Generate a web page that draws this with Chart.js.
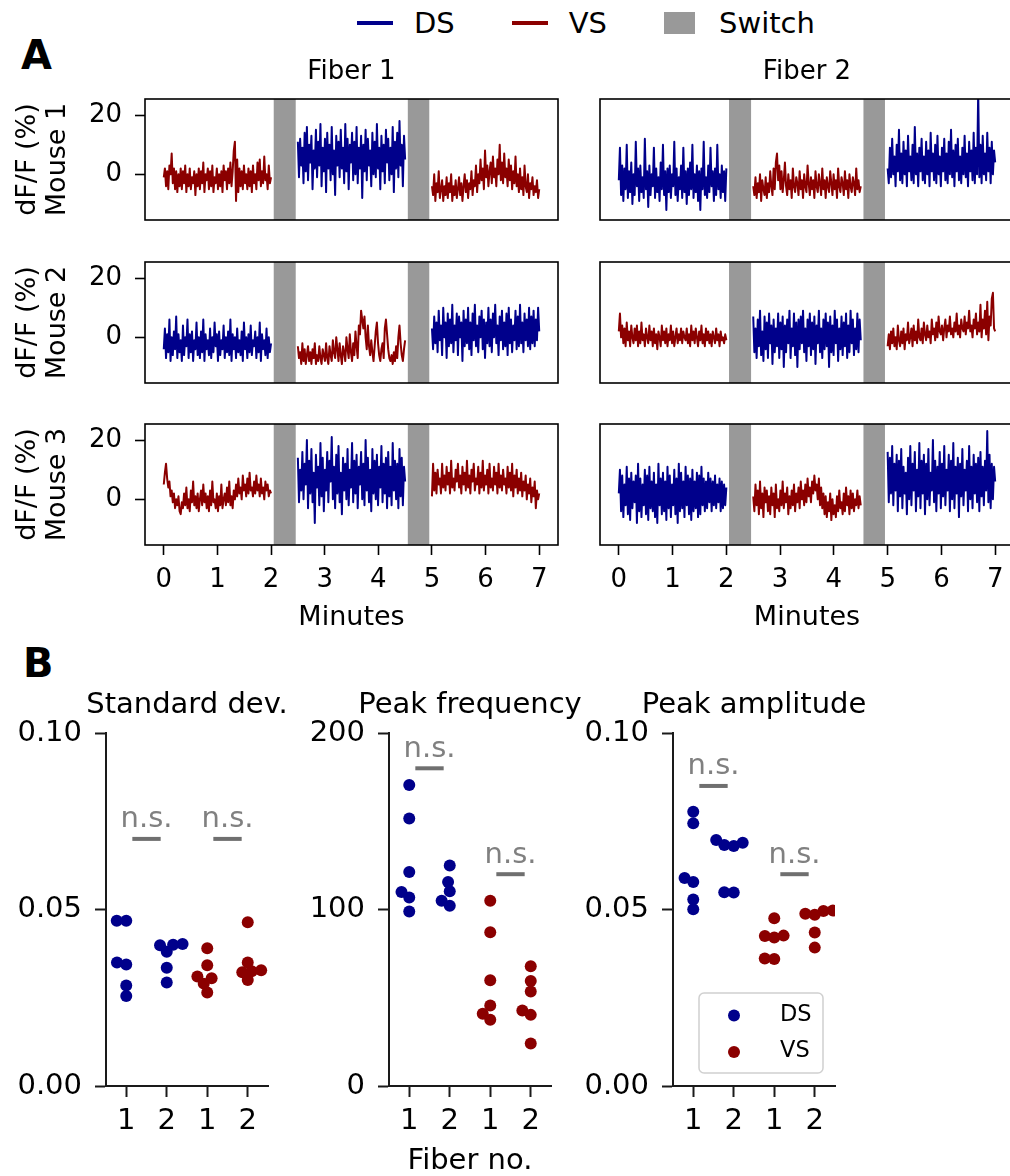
<!DOCTYPE html>
<html>
<head>
<meta charset="utf-8">
<script src="https://cdn.jsdelivr.net/npm/chart.js@4.4.0/dist/chart.umd.min.js"></script>
<style>
  html, body { margin: 0; padding: 0; background: #fff; }
  body { width: 1010px; height: 1176px; overflow: hidden; position: relative; font-family: "DejaVu Sans", sans-serif; }
  canvas { position: absolute; }
  .panel { position: absolute; font-weight: bold; font-size: 40px; line-height: 40px; }
  #topLegend { position: absolute; left: 357px; top: 5px; height: 35px; display: flex; align-items: center; font-size: 29px; }
  #topLegend .item { display: flex; align-items: center; margin-right: 57px; }
  #topLegend .line { width: 36px; height: 4px; margin-right: 21px; }
  #topLegend .box { width: 31px; height: 22px; margin-right: 24px; }
</style>
</head>
<body>
<div id="topLegend"></div>
<div class="panel" style="left:21px; top:35px;">A</div>
<div class="panel" style="left:23px; top:643px;">B</div>

<script>
// ---------- Panel A data: dF/F (%) traces, 3 recordings per fiber ----------
const minuteTicks = [0, 1, 2, 3, 4, 5, 6, 7];
const dffTicks = [0, 20];
const segTimes = [[0, 2], [2.5, 4.5], [5, 7]];
const switchTimes = [[2.05, 2.46], [4.55, 4.95]];
const mouseNames = ['Mouse 1', 'Mouse 2', 'Mouse 3'];
const fiberNames = ['Fiber 1', 'Fiber 2'];
const regionNames = ['DS', 'VS'];
const regionColors = { DS: '#00008b', VS: '#8b0000' };

const m1f1Order = ['VS', 'DS', 'VS'];
const m1f1 = [
  [-1,2,-4,1,-5,3,0,7,-3,2,-5,1,-6,0,-4,2,
   -5,1,-3,3,-6,0,-4,2,-5,-1,-3,1,-7,0,-4,2,
   -5,1,-3,4,-6,0,-2,2,-5,1,-4,3,-6,-1,-3,2,
   -5,0,-4,1,-6,3,-2,1,-5,2,-3,4,-4,1,8,11,
   -9,5,-6,2,-4,1,-5,3,-3,0,-5,2,-4,1,-6,3,
   -3,0,-5,4,-2,5,-4,1,-3,6,-2,0,-5,3,-3,-1],
  [11,-1,12,3,9,-3,14,1,16,-2,10,4,13,-5,8,2,
   15,-1,11,3,17,-4,9,1,12,-6,14,2,10,-2,16,0,
   8,-7,13,3,11,-1,15,2,9,-3,17,1,12,-5,10,4,
   14,-2,11,0,16,-3,9,2,13,-8,10,1,15,-2,12,3,
   8,-4,14,0,11,-1,17,2,9,-5,13,1,10,-3,15,4,
   12,-2,9,0,16,-6,11,2,14,-1,18,3,10,-4,13,5],
  [-4,-7,0,-9,-3,-6,1,-8,-5,-2,-9,-4,-7,-1,-8,-3,
   -6,0,-9,-4,-7,-2,-8,-5,-1,-7,-3,-9,-4,0,-6,-2,
   -8,-3,-5,1,-7,-2,-4,3,-6,0,-3,5,-2,2,-5,8,
   -1,3,-4,1,4,-3,6,-1,2,-4,5,0,10,-2,4,-3,
   7,-1,2,-4,5,-2,3,-5,1,-3,6,-4,0,-6,2,-5,
   -1,-7,3,-4,-6,0,-8,-3,-5,-1,-7,-4,-6,-2,-8,-5]
];
const m1f2Order = ['DS', 'VS', 'DS'];
const m1f2 = [
  [-2,9,-7,3,-9,2,-5,10,-8,1,-6,4,-10,0,-7,11,
   -4,2,-9,3,-6,-1,-8,12,-5,1,-11,3,-7,0,-4,9,
   -8,2,-6,-1,-9,4,-5,10,-7,1,-12,2,-6,3,-8,0,
   -4,11,-7,2,-9,-1,-5,3,-8,9,-6,1,-10,2,-7,4,
   -5,10,-8,0,-6,3,-9,1,-12,2,-5,11,-7,-1,-8,3,
   -6,9,-4,1,-9,2,-7,10,-5,0,-8,3,-6,1,-9,2],
  [-4,-7,-1,-8,-3,-6,0,-9,-2,-5,-7,-1,-8,-3,-6,1,
   -4,-7,2,-5,4,7,-2,3,-5,1,-6,-2,4,-4,-7,0,
   -5,-2,-8,2,-4,-6,-1,-3,-7,1,-5,-2,-8,0,-4,-6,
   3,-3,-7,-1,-5,-2,-8,1,-4,-6,0,-3,-7,2,-5,-2,
   -8,-1,-4,-6,1,-3,-7,0,-5,-2,-8,2,-4,-6,-1,-3,
   -7,1,-5,-2,-8,0,-4,-6,-1,-3,-7,2,-5,-2,-6,-4],
  [2,-3,9,-1,12,0,6,-4,10,1,15,-2,7,-3,11,0,
   8,-4,13,1,6,-2,10,-3,16,0,7,-4,9,1,12,-2,
   6,-3,11,0,8,-4,14,1,7,-2,10,-3,13,0,6,-4,
   9,1,12,-2,7,-3,11,0,15,-1,8,-4,10,1,12,-2,
   6,-3,9,0,13,-1,7,-4,11,1,8,-2,14,-3,9,0,
   28,-1,10,-3,13,0,7,-2,14,1,9,-3,11,0,8,4]
];
const m2f1Order = ['DS', 'VS', 'DS'];
const m2f1 = [
  [-4,3,-7,1,-5,6,-8,0,-6,2,-4,7,-7,1,-5,-1,
   -8,4,-6,0,-3,6,-7,1,-5,2,-8,-1,-4,5,-6,0,
   -7,2,-5,6,-8,1,-4,-1,-6,3,-7,0,-5,5,-3,1,
   -8,2,-6,-1,-4,4,-7,0,-5,2,-6,6,-8,1,-4,0,
   -7,3,-5,-1,-6,2,-8,5,-4,0,-7,1,-5,4,-6,-1,
   -3,2,-7,0,-5,5,-8,1,-4,-1,-6,3,-7,0,-5,-2],
  [-3,-7,-5,-9,-2,-8,-4,-9,-6,-3,-8,-5,-9,-4,-7,-2,
   -9,-6,-8,-3,-7,-9,-4,-6,-8,-2,-7,-9,-3,-6,-8,-1,
   -5,-7,0,-4,-8,-2,-6,-9,-3,-5,-8,0,-4,-7,1,-5,
   -8,-2,-6,2,-3,-7,4,1,9,6,3,7,0,-4,4,-3,
   -6,-1,-5,-8,-3,2,5,-2,-6,-8,-4,-2,-7,3,6,1,
   -4,-7,-8,-6,-9,-5,-8,-3,-7,0,4,-2,-6,-8,-4,-1],
  [3,-4,7,-2,5,-5,9,-1,4,-6,10,0,5,-7,8,-3,
   6,-2,11,-5,4,-1,8,-6,7,0,5,-8,9,-3,6,-2,
   10,-4,5,-6,8,-1,11,-3,4,-5,7,0,9,-4,6,-7,
   5,-2,10,-3,6,-5,8,0,11,-2,4,-6,7,-1,9,-4,
   5,-3,8,-6,10,-2,6,-5,4,-1,9,-4,7,-3,11,-2,
   5,-5,8,-1,6,-3,10,-4,7,-2,9,-3,6,-1,10,2]
];
const m2f2Order = ['VS', 'DS', 'VS'];
const m2f2 = [
  [2,8,0,4,-2,3,-3,5,-1,2,-3,4,0,-2,3,-1,
   4,-3,2,-2,5,-1,1,-3,3,0,-2,4,-1,2,-3,3,
   -2,1,-4,2,0,-3,4,-1,2,-2,3,-3,1,-1,4,-2,
   2,-3,0,3,-2,1,-1,3,-2,2,0,-1,3,-2,1,-3,
   4,-1,2,-2,3,0,-3,2,-1,4,-2,1,-3,3,-1,2,
   -2,1,-3,2,0,-2,3,-1,1,-3,2,-1,0,-2,1,-1],
  [7,-5,3,-7,6,-3,9,-6,2,-8,7,-4,5,-7,8,-2,
   4,-9,6,-5,3,-3,8,-7,5,-4,7,-10,4,-5,6,-2,
   9,-7,3,-3,8,-6,5,-10,6,-4,7,-2,9,-5,3,-8,
   6,-3,8,-6,5,-4,7,-9,4,-2,9,-5,3,-7,6,-4,
   8,-3,5,-10,7,-5,4,-6,9,-2,6,-8,3,-4,7,-6,
   5,-3,8,-7,4,-5,9,-2,6,-6,3,-4,8,-5,6,-1],
  [-3,1,-4,2,-2,3,-3,0,-4,4,-1,-3,2,-2,3,-4,
   1,-1,5,-2,0,3,-3,4,-1,2,-2,6,0,-1,3,-2,
   5,1,-1,4,0,2,-2,6,1,3,-1,5,0,7,2,1,
   4,-1,3,6,0,4,2,7,1,3,0,5,2,8,1,4,
   0,6,3,2,7,1,5,3,9,2,4,0,6,3,8,1,
   5,2,11,0,6,3,9,1,12,-1,7,4,13,15,3,2]
];
const m3f1Order = ['VS', 'DS', 'VS'];
const m3f1 = [
  [5,9,12,7,4,6,1,3,-1,2,-3,0,-2,1,-4,-5,
   -1,-3,2,-2,4,-3,0,-4,3,-1,6,-2,1,-3,2,-4,
   0,3,-2,5,-1,2,-3,1,-4,3,-2,6,-1,0,-3,2,
   -4,1,-2,5,-3,0,2,-2,4,-1,6,-2,1,-3,3,0,
   5,1,7,2,4,0,8,3,5,1,7,2,9,3,4,1,
   6,2,8,3,5,1,7,2,4,0,6,3,5,1,3,2],
  [14,-1,10,3,16,0,12,5,20,-3,13,2,17,-1,9,-8,
   15,4,11,-2,19,1,14,-4,10,3,16,-1,13,6,21,0,
   11,-3,15,2,18,-1,9,-5,14,3,12,0,17,-2,10,4,
   19,-1,13,2,15,-3,11,5,16,0,12,-2,20,3,14,-1,
   10,-4,17,2,13,0,15,-2,11,4,18,-1,12,2,14,-3,
   16,1,11,-2,19,3,13,0,12,-3,17,1,14,-2,11,6],
  [1,12,3,9,2,10,5,7,2,12,4,8,3,11,5,9,
   2,13,4,7,3,10,6,12,4,8,2,11,5,9,3,13,
   4,8,2,10,6,12,3,7,5,11,2,9,4,13,3,8,
   5,10,2,12,4,7,3,11,5,9,2,12,4,8,3,10,
   5,7,2,11,4,9,3,12,1,8,4,10,2,7,3,9,
   1,6,3,8,0,5,2,7,-1,4,1,6,-3,3,0,2]
];
const m3f2Order = ['DS', 'VS', 'DS'];
const m3f2 = [
  [2,10,-4,8,-6,5,-2,11,-5,7,-7,9,-3,6,-1,8,
   -8,12,-4,7,-6,5,-2,10,-5,8,-7,11,-3,6,-4,9,
   -6,5,-8,12,-2,7,-5,9,-4,6,-7,11,-3,8,-6,5,
   -2,10,-5,7,-8,12,-4,9,-3,6,-6,11,-2,8,-5,7,
   -7,10,-4,6,-3,9,-6,8,-5,11,-2,7,-4,6,-3,9,
   -1,7,-4,6,-2,8,-3,5,-1,7,-4,6,-3,5,-2,4],
  [1,-4,5,-2,3,-5,6,-3,2,-6,4,-1,3,-4,1,-5,
   4,-2,2,-6,5,-3,0,-4,3,-2,6,-3,2,-1,4,-5,
   1,-3,3,-2,5,-4,2,-1,4,-3,6,0,3,-2,5,-1,
   7,1,4,-1,6,2,8,3,5,0,7,-2,4,-3,2,-5,
   1,-6,-1,-4,2,-7,0,-5,-2,-6,1,-4,3,-3,-1,-5,
   2,-4,4,-2,1,-5,3,-3,2,-4,0,-2,3,-3,1,-2],
  [16,-1,14,2,18,-2,12,3,15,-4,13,1,17,-3,11,2,
   9,-5,14,0,18,-2,12,3,16,-4,10,1,19,-3,13,2,
   15,-5,12,0,17,-2,9,3,20,-1,13,-4,11,2,16,-3,
   12,1,18,-2,10,3,15,-4,13,0,19,-3,11,2,14,-6,
   12,1,17,-2,10,3,13,-4,18,0,11,-3,15,2,12,-1,
   14,-4,16,1,11,-2,13,3,23,-1,15,-3,12,0,11,6]
];

// ---------- Panel B data: per-session measures, fiber 1 / fiber 2 ----------
const groupLabels = ['1', '2', '1', '2'];
const stdTicks = [0, 0.05, 0.10];
const freqTicks = [0, 100, 200];
const ampTicks = [0, 0.05, 0.10];

const stdDS1 = [0.0468, 0.0468, 0.0350, 0.0344, 0.0285, 0.0255];
const stdDS2 = [0.0402, 0.0400, 0.0399, 0.0380, 0.0335, 0.0293];
const stdVS1 = [0.0390, 0.0342, 0.0310, 0.0305, 0.0290, 0.0265];
const stdVS2 = [0.0464, 0.0350, 0.0328, 0.0325, 0.0322, 0.0300];

const freqDS1 = [170.5, 151.5, 121.3, 109.9, 106.8, 98.9];
const freqDS2 = [124.9, 115.6, 110.3, 104.9, 102.1];
const freqVS1 = [104.9, 87.1, 59.9, 45.6, 40.9, 37.6];
const freqVS2 = [67.9, 59.5, 53.6, 42.8, 40.3, 24.1];

const ampDS1 = [0.0777, 0.0744, 0.0589, 0.0578, 0.0528, 0.0501];
const ampDS2 = [0.0697, 0.0689, 0.0683, 0.0680, 0.0549, 0.0548];
const ampVS1 = [0.0475, 0.0426, 0.0425, 0.0421, 0.0361, 0.0360];
const ampVS2 = [0.0497, 0.0496, 0.0488, 0.0485, 0.0435, 0.0392];

// n.s. comparisons: [from group, to group, height]
const stdSig = [[0.15, 0.85, 0.07], [2.15, 2.85, 0.07]];
const freqSig = [[0.15, 0.85, 180], [2.15, 2.85, 120]];
const ampSig = [[0.15, 0.85, 0.085], [2.15, 2.85, 0.06]];

// ---------- common ----------
Chart.defaults.font.family = "'DejaVu Sans', sans-serif";
Chart.defaults.color = '#000';
Chart.defaults.animation = false;

const legendEl = document.getElementById('topLegend');
regionNames.forEach(r => {
  legendEl.insertAdjacentHTML('beforeend',
    `<div class="item"><div class="line" style="background:${regionColors[r]}"></div><span>${r}</span></div>`);
});
legendEl.insertAdjacentHTML('beforeend',
  '<div class="item"><div class="box" style="background:#999"></div><span>Switch</span></div>');

function makeCanvas(left, top, w, h) {
  const c = document.createElement('canvas');
  c.width = w; c.height = h;
  c.style.left = left + 'px'; c.style.top = top + 'px';
  c.style.width = w + 'px'; c.style.height = h + 'px';
  document.body.appendChild(c);
  return c;
}

// gray switch spans + full frame around the axes
const framePlugin = {
  id: 'frame',
  beforeDatasetsDraw(chart) {
    const { ctx, chartArea: a, scales: { x } } = chart;
    ctx.save();
    ctx.fillStyle = '#999999';
    switchTimes.forEach(([t0, t1]) => {
      const x0 = x.getPixelForValue(t0), x1 = x.getPixelForValue(t1);
      ctx.fillRect(x0, a.top, x1 - x0, a.bottom - a.top);
    });
    ctx.restore();
  },
  afterDraw(chart) {
    const { ctx, chartArea: a } = chart;
    ctx.save();
    ctx.strokeStyle = '#000';
    ctx.lineWidth = 1.6;
    ctx.strokeRect(a.left, a.top, a.right - a.left, a.bottom - a.top);
    ctx.restore();
  }
};

// ---------- Panel A ----------
const rowTop = [99, 262, 424];
const boxH = 121;
const colLeft = [145, 600];
const colRight = [558, 1014];

function traceChart(row, col, segs, order) {
  const isLeft = col === 0, isTop = row === 0, isBottom = row === 2;
  const yW = isLeft ? 145 : 0;
  const padL = isLeft ? 0 : 10;
  const padT = isTop ? 46 : 30;
  const padB = isBottom ? 95 : 30;
  const w = yW + padL + (colRight[col] - colLeft[col]) + 30;
  const h = padT + boxH + padB;
  const canvas = makeCanvas(colLeft[col] - yW - padL, rowTop[row] - padT, w, h);

  const datasets = segs.map((vals, k) => {
    const [t0, t1] = segTimes[k];
    return {
      data: vals.map((v, i) => ({ x: t0 + (t1 - t0) * i / (vals.length - 1), y: v })),
      borderColor: regionColors[order[k]],
      borderWidth: 2,
      borderJoinStyle: 'round',
      pointRadius: 0,
      tension: 0
    };
  });

  return new Chart(canvas, {
    type: 'line',
    data: { datasets },
    plugins: [framePlugin],
    options: {
      responsive: false,
      devicePixelRatio: 1,
      layout: { padding: { left: padL, right: 30, top: isTop ? 0 : 30, bottom: isBottom ? 0 : 30 } },
      plugins: {
        legend: { display: false },
        tooltip: { enabled: false },
        title: {
          display: isTop,
          text: fiberNames[col],
          fullSize: false,
          font: { size: 26, weight: 'normal' },
          color: '#000',
          padding: { top: 4, bottom: 10.8 }
        }
      },
      scales: {
        x: {
          type: 'linear',
          min: -0.35, max: 7.35,
          display: isBottom,
          afterFit: s => { if (isBottom) s.height = 95; },
          afterBuildTicks: s => { s.ticks = minuteTicks.map(v => ({ value: v })); },
          grid: { drawOnChartArea: false, tickLength: 10, tickWidth: 1.6, tickColor: '#000' },
          border: { display: false },
          ticks: { font: { size: 26 }, padding: 9.5, maxRotation: 0, autoSkip: false },
          title: { display: true, text: 'Minutes', font: { size: 27 }, padding: { top: 0, bottom: 5.5 } }
        },
        y: {
          min: -15.4, max: 25.4,
          display: isLeft,
          afterFit: s => { if (isLeft) s.width = 145; },
          afterBuildTicks: s => { s.ticks = dffTicks.map(v => ({ value: v })); },
          grid: { drawOnChartArea: false, tickLength: 10, tickWidth: 1.6, tickColor: '#000' },
          border: { display: false },
          ticks: { font: { size: 26 }, padding: 13 },
          title: {
            display: true,
            text: ['dF/F (%)', mouseNames[row]],
            font: { size: 27, lineHeight: 1.111 },
            padding: { top: 13, bottom: 0 }
          }
        }
      }
    }
  });
}

traceChart(0, 0, m1f1, m1f1Order);
traceChart(0, 1, m1f2, m1f2Order);
traceChart(1, 0, m2f1, m2f1Order);
traceChart(1, 1, m2f2, m2f2Order);
traceChart(2, 0, m3f1, m3f1Order);
traceChart(2, 1, m3f2, m3f2Order);

// ---------- Panel B ----------
function swarm(vals, pxY, d) {
  const idx = vals.map((v, i) => i).sort((a, b) => vals[a] - vals[b]);
  const placed = [];
  const out = new Array(vals.length);
  idx.forEach(i => {
    const y = vals[i] * pxY;
    const cands = [0];
    placed.forEach(p => {
      const dy = Math.abs(p.y - y);
      if (dy < d) {
        const dx = Math.sqrt(d * d - dy * dy);
        cands.push(p.x - dx, p.x + dx);
      }
    });
    const ok = cands
      .filter(c => placed.every(p => (p.x - c) ** 2 + (p.y - y) ** 2 >= d * d - 0.01))
      .sort((a, b) => Math.abs(a) - Math.abs(b));
    placed.push({ x: ok[0], y });
    out[i] = ok[0];
  });
  return out;
}

// subplot title centred over the axes (matplotlib style)
const axTitlePlugin = {
  id: 'axTitle',
  afterDraw(chart, args, opts) {
    const { ctx, chartArea: a } = chart;
    ctx.save();
    ctx.fillStyle = '#000';
    ctx.font = "29px 'DejaVu Sans'";
    ctx.textAlign = 'center';
    ctx.textBaseline = 'middle';
    ctx.fillText(opts.text, (a.left + a.right) / 2, a.top - 28);
    ctx.restore();
  }
};

const sigPlugin = {
  id: 'sig',
  afterDatasetsDraw(chart, args, opts) {
    const { ctx, scales: { x, y } } = chart;
    ctx.save();
    (opts.bars || []).forEach(([g0, g1, v]) => {
      const x0 = x.getPixelForValue(g0), x1 = x.getPixelForValue(g1), py = y.getPixelForValue(v);
      ctx.strokeStyle = '#6f6f6f';
      ctx.lineWidth = 4;
      ctx.beginPath(); ctx.moveTo(x0, py); ctx.lineTo(x1, py); ctx.stroke();
      ctx.fillStyle = '#808080';
      ctx.font = "29px 'DejaVu Sans'";
      ctx.textAlign = 'center';
      ctx.textBaseline = 'alphabetic';
      ctx.fillText('n.s.', (x0 + x1) / 2, py - 11.5);
    });
    ctx.restore();
  }
};

const dotLegendPlugin = {
  id: 'dotLegend',
  afterDraw(chart, args, opts) {
    if (!opts.show) return;
    const { ctx, chartArea: a } = chart;
    const w = 124, h = 80;
    const bx = a.right - 12 - w, by = a.bottom - 13 - h;
    ctx.save();
    ctx.fillStyle = 'rgba(255,255,255,0.8)';
    ctx.strokeStyle = '#d0d0d0';
    ctx.lineWidth = 1.5;
    ctx.beginPath();
    ctx.roundRect(bx, by, w, h, 5);
    ctx.fill(); ctx.stroke();
    ctx.font = "22.5px 'DejaVu Sans'";
    ctx.textBaseline = 'middle';
    ctx.textAlign = 'left';
    regionNames.forEach((r, k) => {
      const cy = by + 21 + k * 36.5;
      ctx.fillStyle = regionColors[r];
      ctx.beginPath(); ctx.arc(bx + 35, cy + 1.5, 6, 0, Math.PI * 2); ctx.fill();
      ctx.fillStyle = '#000';
      ctx.fillText(r, bx + 81, cy + 1);
    });
    ctx.restore();
  }
};

function swarmChart(cfg) {
  const yW = cfg.yW, areaW = 162;
  const canvas = makeCanvas(cfg.areaLeft - yW, 684, yW + areaW + 30, 497);
  const chart = new Chart(canvas, {
    type: 'scatter',
    data: {
      datasets: regionNames.map(r => ({
        label: r,
        data: [],
        backgroundColor: regionColors[r],
        borderWidth: 0,
        pointRadius: 6,
        pointHoverRadius: 6
      }))
    },
    plugins: [axTitlePlugin, sigPlugin, dotLegendPlugin],
    options: {
      responsive: false,
      devicePixelRatio: 1,
      layout: { padding: { left: 0, right: 30, top: 49, bottom: 0 } },
      plugins: {
        legend: { display: false },
        tooltip: { enabled: false },
        axTitle: { text: cfg.title },
        sig: { bars: cfg.sig },
        dotLegend: { show: !!cfg.legend }
      },
      scales: {
        x: {
          type: 'linear',
          min: -0.5, max: 3.5,
          afterFit: s => { s.height = 95; },
          afterBuildTicks: s => { s.ticks = groupLabels.map((l, i) => ({ value: i })); },
          grid: { drawOnChartArea: false, tickLength: 11, tickWidth: 2, tickColor: '#1a1a1a' },
          border: { display: true, width: 2, color: '#1a1a1a' },
          ticks: {
            font: { size: 29 }, padding: 7, maxRotation: 0, autoSkip: false,
            callback: v => groupLabels[Math.round(v)]
          },
          title: { display: !!cfg.xTitle, text: cfg.xTitle || '', font: { size: 29 }, padding: { top: 0, bottom: 2 } }
        },
        y: {
          min: cfg.min, max: cfg.max,
          afterFit: s => { s.width = yW; },
          afterBuildTicks: s => { s.ticks = cfg.ticks.map(v => ({ value: v })); },
          grid: { drawOnChartArea: false, tickLength: 11, tickWidth: 2, tickColor: '#1a1a1a' },
          border: { display: true, width: 2, color: '#1a1a1a' },
          ticks: { font: { size: 29 }, padding: 13, callback: cfg.fmt }
        }
      }
    }
  });

  // swarm layout in pixel space, converted back to category units
  const { x, y } = chart.scales;
  const pxX = (x.right - x.left) / (x.max - x.min);
  const pxY = (y.bottom - y.top) / (y.max - y.min);
  const pts = cfg.groups.map((vals, g) =>
    swarm(vals, pxY, 9.5).map((dx, i) => ({ x: g + dx / pxX, y: vals[i] })));
  chart.data.datasets[0].data = pts[0].concat(pts[1]);
  chart.data.datasets[1].data = pts[2].concat(pts[3]);
  chart.update('none');
  return chart;
}

swarmChart({
  title: 'Standard dev.', areaLeft: 106, yW: 106, min: 0, max: 0.1, ticks: stdTicks,
  fmt: v => v.toFixed(2), groups: [stdDS1, stdDS2, stdVS1, stdVS2], sig: stdSig
});
swarmChart({
  title: 'Peak frequency', areaLeft: 389, yW: 100, min: 0, max: 200, ticks: freqTicks,
  fmt: v => String(v), groups: [freqDS1, freqDS2, freqVS1, freqVS2], sig: freqSig, xTitle: 'Fiber no.'
});
swarmChart({
  title: 'Peak amplitude', areaLeft: 673, yW: 100, min: 0, max: 0.1, ticks: ampTicks,
  fmt: v => v.toFixed(2), groups: [ampDS1, ampDS2, ampVS1, ampVS2], sig: ampSig, legend: true
});
</script>
</body>
</html>
